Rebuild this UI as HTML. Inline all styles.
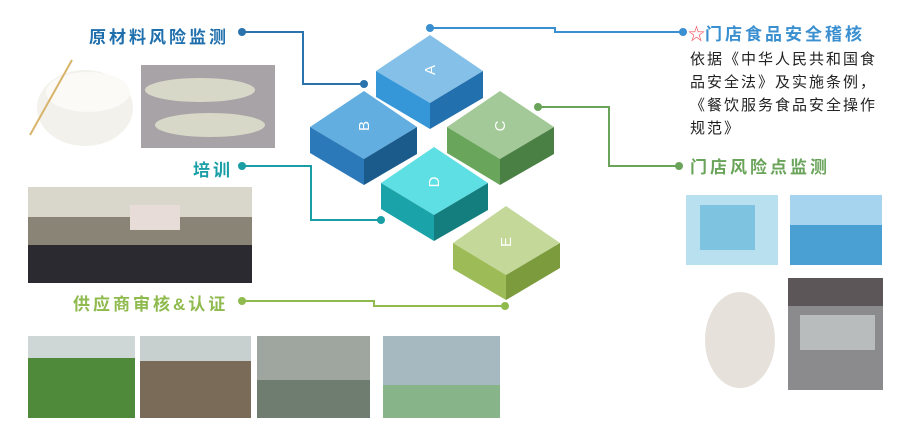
<!DOCTYPE html>
<html><head><meta charset="utf-8"><style>
body{margin:0;width:909px;height:428px;background:#fff;position:relative;overflow:hidden;font-family:"Liberation Sans","Noto Sans CJK SC",sans-serif}
.a{position:absolute}
.lbl{position:absolute;font-weight:bold;font-size:17px;letter-spacing:3px;white-space:nowrap;line-height:20px}
.body{position:absolute;left:690px;top:48px;font-size:15px;line-height:23px;color:#222;letter-spacing:2px;white-space:nowrap}
</style></head><body>
<svg class="a" style="left:0;top:0" width="909" height="428">
<g fill="none" stroke-width="2">
<polyline points="430,28 555,28 555,32 683,32" stroke="#3a8fd0"/>
<polyline points="242,32 303,32 303,84 364,84" stroke="#2a73ad"/>
<polyline points="242,166 311,166 311,220 381,220" stroke="#1a9ea6"/>
<polyline points="242,301 374,301 374,306 505,306" stroke="#8fba4e"/>
<polyline points="538,107 609,107 609,166 679,166" stroke="#6aa45a"/>
</g>
<circle cx="430" cy="28" r="4" fill="#3a8fd0"/><circle cx="683" cy="32" r="4" fill="#3a8fd0"/>
<circle cx="242" cy="32" r="4" fill="#2a73ad"/><circle cx="364" cy="84" r="4" fill="#2a73ad"/>
<circle cx="242" cy="166" r="4" fill="#1a9ea6"/><circle cx="381" cy="220" r="4" fill="#1a9ea6"/>
<circle cx="242" cy="301" r="4" fill="#8fba4e"/><circle cx="505" cy="306" r="4" fill="#8fba4e"/>
<circle cx="538" cy="107" r="4" fill="#6aa45a"/><circle cx="679" cy="166" r="4" fill="#6aa45a"/>
<polygon points="430,35 483,71 430,103 376,71" fill="#84c0e8"/>
<polygon points="376,71 430,103 430,129 376,97" fill="#3596d8"/>
<polygon points="430,103 483,71 483,98 430,129" fill="#2270ad"/>
<polygon points="364,91 417,127 364,159 310,127" fill="#62aee0"/>
<polygon points="310,127 364,159 364,185 310,153" fill="#2b79b9"/>
<polygon points="364,159 417,127 417,154 364,185" fill="#1b5b8c"/>
<polygon points="500,91 554,127 500,159 447,127" fill="#a3c998"/>
<polygon points="447,127 500,159 500,185 447,153" fill="#69a65c"/>
<polygon points="500,159 554,127 554,154 500,185" fill="#4b8044"/>
<polygon points="434,147 488,183 434,215 381,183" fill="#5ddfe4"/>
<polygon points="381,183 434,215 434,241 381,209" fill="#1aa3a8"/>
<polygon points="434,215 488,183 488,210 434,241" fill="#147e7e"/>
<polygon points="506,206 560,243 506,275 453,243" fill="#c4d89a"/>
<polygon points="453,243 506,275 506,300 453,269" fill="#9dbb56"/>
<polygon points="506,275 560,243 560,268 506,300" fill="#7c9b3c"/>
<g fill="#fff" font-size="15" font-family="Liberation Sans,sans-serif" text-anchor="middle">
<text transform="translate(430,70) rotate(-90)" dy="5">A</text>
<text transform="translate(364,126) rotate(-90)" dy="5">B</text>
<text transform="translate(500,126) rotate(-90)" dy="5">C</text>
<text transform="translate(434,182) rotate(-90)" dy="5">D</text>
<text transform="translate(506,242) rotate(-90)" dy="5">E</text>
</g>
<ellipse cx="85" cy="108" rx="48" ry="38" fill="#f3f1ec"/>
<ellipse cx="88" cy="92" rx="42" ry="20" fill="#fbfaf7"/>
<line x1="30" y1="135" x2="72" y2="60" stroke="#d8b46a" stroke-width="2"/>
<rect x="141" y="65" width="134" height="83" fill="#a8a3a6"/>
<ellipse cx="200" cy="90" rx="55" ry="12" fill="#d7d8c8"/>
<ellipse cx="210" cy="125" rx="55" ry="12" fill="#d7d8c8"/>
<rect x="28" y="187" width="224" height="96" fill="#8a8476"/>
<rect x="28" y="187" width="224" height="30" fill="#d9d6cc"/>
<rect x="28" y="245" width="224" height="38" fill="#2a2a30"/>
<rect x="130" y="205" width="50" height="25" fill="#e7dcd8"/>
<rect x="28" y="336" width="107" height="82" fill="#4f8a3a"/>
<rect x="28" y="336" width="107" height="22" fill="#cfd6d6"/>
<rect x="140" y="336" width="111" height="82" fill="#7a6a58"/>
<rect x="140" y="336" width="111" height="25" fill="#c8cfcf"/>
<rect x="257" y="336" width="113" height="82" fill="#9fa6a0"/>
<rect x="257" y="380" width="113" height="38" fill="#6f7d70"/>
<rect x="383" y="336" width="117" height="82" fill="#a6b8c0"/>
<rect x="383" y="385" width="117" height="33" fill="#88b48a"/>
<rect x="686" y="195" width="92" height="70" fill="#b8e0ef"/>
<rect x="700" y="205" width="55" height="45" fill="#7ec4e0"/>
<rect x="790" y="195" width="92" height="70" fill="#4aa0d2"/>
<rect x="790" y="195" width="92" height="30" fill="#a6d4ee"/>
<ellipse cx="740" cy="340" rx="35" ry="48" fill="#e7e1dc"/>
<rect x="788" y="278" width="95" height="112" fill="#8b8a8c"/>
<rect x="788" y="278" width="95" height="28" fill="#5c5658"/>
<rect x="800" y="315" width="75" height="35" fill="#b9bcbd"/>
</svg>
<div class="lbl" style="left:89px;top:28px;color:#1f6fad">原材料风险监测</div>
<div class="lbl" style="left:193px;top:161px;color:#1a9ea6">培训</div>
<div class="lbl" style="left:73px;top:295px;color:#8fba4e">供应商审核&amp;认证</div>
<div class="lbl" style="left:688px;top:25px;color:#3a8fd0"><span style="color:#f04a55;font-weight:normal;letter-spacing:0">☆</span>门店食品安全稽核</div>
<div class="lbl" style="left:690px;top:158px;color:#6aa45a">门店风险点监测</div>
<div class="body">依据《中华人民共和国食<br>品安全法》及实施条例，<br>《餐饮服务食品安全操作<br>规范》</div>
</body></html>
